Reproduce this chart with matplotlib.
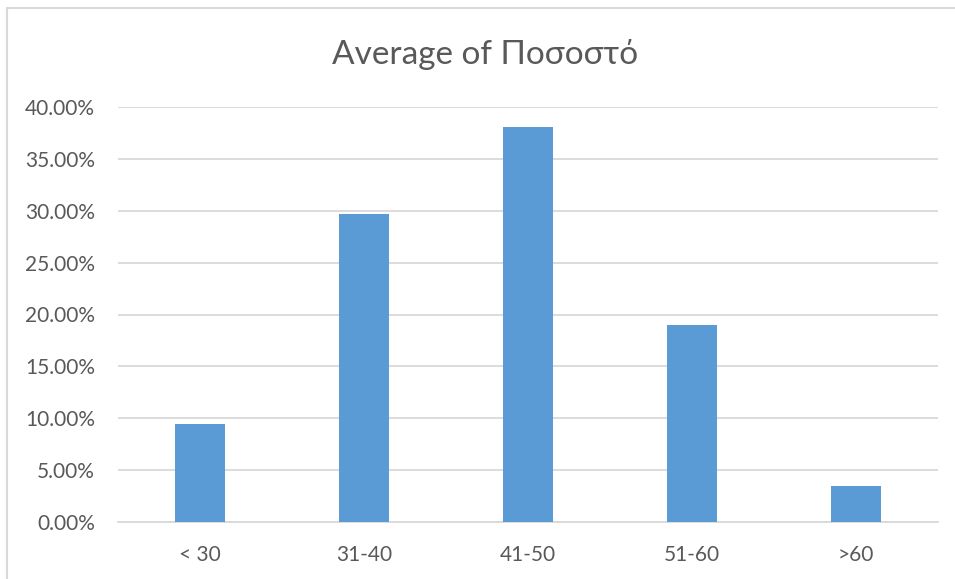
import matplotlib
matplotlib.use("Agg")
import matplotlib.pyplot as plt
from matplotlib.patches import Rectangle
from matplotlib.ticker import FuncFormatter

# average share per age group
groups = ["< 30", "31-40", "41-50", "51-60", ">60"]
average = [0.0948, 0.2973, 0.3807, 0.1903, 0.0351]

plt.rcParams['font.family'] = ['Lato', 'DejaVu Sans']
text_color = '#595959'
grid_color = '#D9D9D9'

fig = plt.figure(figsize=(9.55, 5.79), dpi=100)
ax = fig.add_axes([118/955, 57/579, 820/955, 415/579])

x = range(len(groups))
ax.bar(x, average, width=0.31, color='#5B9BD5', zorder=3)

ax.set_xlim(-0.5, len(groups) - 0.5)
ax.set_ylim(0, 0.40)
ax.set_yticks([i * 0.05 for i in range(9)])
ax.yaxis.set_major_formatter(FuncFormatter(lambda v, p: "%.2f%%" % (v * 100)))
ax.set_xticks(list(x))
ax.set_xticklabels(groups)

ax.grid(axis='y', color=grid_color, linewidth=1.3, zorder=0)
for side in ['top', 'right', 'left']:
	ax.spines[side].set_visible(False)
ax.spines['bottom'].set_color(grid_color)
ax.spines['bottom'].set_linewidth(1.3)
ax.tick_params(axis='both', length=0, colors=text_color, labelsize=15)
ax.tick_params(axis='y', pad=16.5)
ax.tick_params(axis='x', pad=16.5)

fig.text(485/955, 1 - 55/579, "Average of Ποσοστό", ha='center', va='center',
	fontsize=24, color=text_color)

# chart frame
fig.patches.append(Rectangle((7/955, -0.1), 1.1, 1 - 8/579 + 0.1, transform=fig.transFigure,
	fill=False, edgecolor=grid_color, linewidth=1.5))

fig.savefig('out.png', dpi=100)
